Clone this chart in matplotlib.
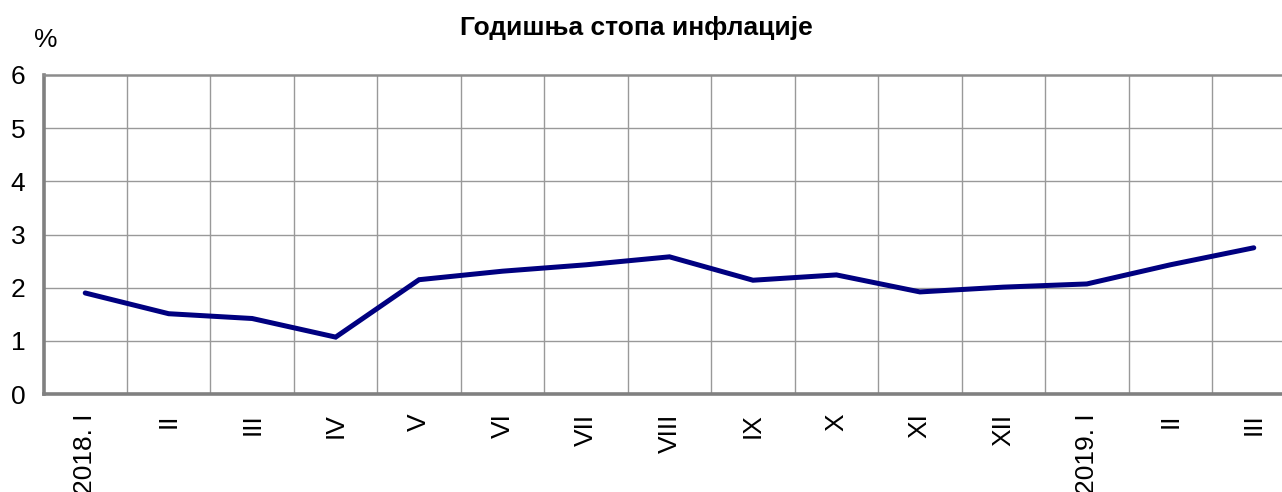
import matplotlib
matplotlib.use("Agg")
import matplotlib.pyplot as plt

plt.rcParams["font.family"] = ["Liberation Sans", "DejaVu Sans"]

# Data
months = ["2018. I", "II", "III", "IV", "V", "VI", "VII", "VIII", "IX", "X",
          "XI", "XII", "2019. I", "II", "III"]
inflation = [1.90, 1.51, 1.42, 1.07, 2.15, 2.31, 2.43, 2.58, 2.14, 2.24,
             1.92, 2.01, 2.07, 2.43, 2.75]
y_ticks = [0, 1, 2, 3, 4, 5, 6]

W, H = 1282, 492
fig = plt.figure(figsize=(W / 100, H / 100), dpi=100)

# axes run a bit past the right edge of the picture, as in the original
left, right, bottom, top = 43.5, 1295.5, 394, 75
ax = fig.add_axes([left / W, 1 - bottom / H, (right - left) / W, (bottom - top) / H])

x = list(range(len(months)))
ax.plot(x, inflation, color="#000080", linewidth=3.6, solid_capstyle="round",
        solid_joinstyle="miter", zorder=3)

ax.set_xlim(-0.5, len(months) - 0.5)
ax.set_ylim(0, 6)

# grid lines
for k in range(1, len(months)):
    ax.axvline(k - 0.5, color="#999999", linewidth=1.0, zorder=1)
for v in y_ticks[1:-1]:
    ax.axhline(v, color="#999999", linewidth=1.0, zorder=1)

ax.set_yticks(y_ticks)
ax.set_xticks(x)
ax.set_xticklabels(months, rotation=90, va="top", ha="center")
ax.tick_params(axis="both", length=0, labelsize=19)
ax.tick_params(axis="x", pad=14)
ax.tick_params(axis="y", pad=13)

ax.spines["right"].set_visible(False)
ax.spines["top"].set_color("#8c8c8c")
ax.spines["top"].set_linewidth(1.8)
ax.spines["left"].set_color("#808080")
ax.spines["left"].set_linewidth(2.6)
ax.spines["bottom"].set_color("#808080")
ax.spines["bottom"].set_linewidth(2.6)

fig.text(636 / W, 1 - 28 / H, "Годишња стопа инфлације", ha="center", va="center",
         fontsize=19, fontweight="bold")
fig.text(46 / W, 1 - 40 / H, "%", ha="center", va="center", fontsize=19)

fig.savefig("out.png", dpi=100)
